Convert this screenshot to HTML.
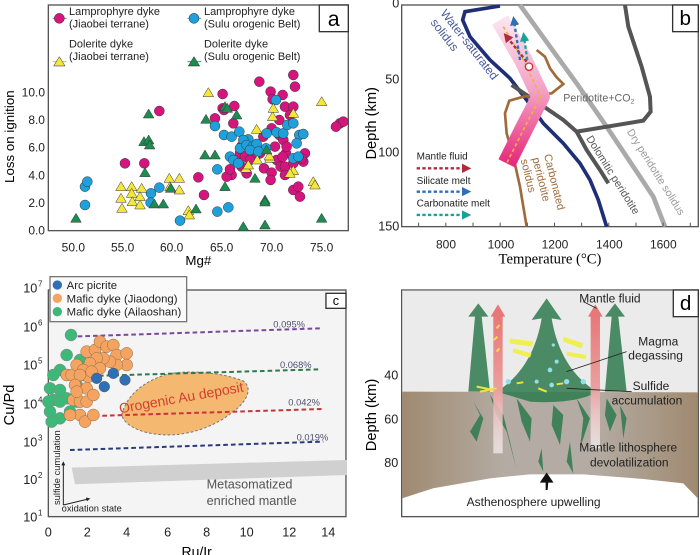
<!DOCTYPE html>
<html><head><meta charset="utf-8"><style>
html,body{margin:0;padding:0;background:#fff}
svg{display:block;font-family:"Liberation Sans",Arial,sans-serif}
</style></head><body>
<svg id="s" width="700" height="555" viewBox="0 0 700 555" xmlns="http://www.w3.org/2000/svg">
<defs>
<linearGradient id="band" x1="0" y1="0" x2="0" y2="1">
<stop offset="0" stop-color="#fbe3ee"/><stop offset="0.5" stop-color="#f3a0c4"/><stop offset="1" stop-color="#e62a7c"/></linearGradient>
<linearGradient id="brown" x1="0" y1="0" x2="1" y2="0">
<stop offset="0" stop-color="#a08a70"/><stop offset="0.35" stop-color="#b4aca4"/><stop offset="0.65" stop-color="#b4aca4"/><stop offset="1" stop-color="#a08a70"/></linearGradient>
<linearGradient id="pinkArr" x1="0" y1="1" x2="0" y2="0">
<stop offset="0" stop-color="#ffffff" stop-opacity="0.6"/><stop offset="0.45" stop-color="#eaa0a0"/><stop offset="1" stop-color="#e87878"/></linearGradient>
<marker id="ar" viewBox="0 0 10 10" refX="5" refY="5" markerWidth="4" markerHeight="4" orient="auto"><path d="M0,0L10,5L0,10z" fill="context-stroke"/></marker>
</defs>

<!-- Panel a -->
<g id="pa" transform="scale(0.3333)">
<rect x="145" y="15" width="900" height="677" fill="#fff" stroke="#555" stroke-width="4"/>
<g font-size="33" fill="#222">
<line x1="158" y1="55" x2="200" y2="55" stroke="#c06090" stroke-width="3"/>
<circle cx="178" cy="55" r="15" fill="#d6147e" stroke="#222" stroke-width="1.5"/>
<text x="207" y="45">Lamprophyre dyke</text><text x="207" y="82">(Jiaobei terrane)</text>
<line x1="562" y1="55" x2="604" y2="55" stroke="#60a0d0" stroke-width="3"/>
<circle cx="582" cy="55" r="15" fill="#1ea0dc" stroke="#222" stroke-width="1.5"/>
<text x="612" y="45">Lamprophyre dyke</text><text x="612" y="82">(Sulu orogenic Belt)</text>
<line x1="158" y1="185" x2="200" y2="185" stroke="#c8c060" stroke-width="3"/>
<path d="M178,170L195,198L161,198Z" fill="#f5e63c" stroke="#222" stroke-width="1.5"/>
<text x="207" y="142">Dolerite dyke</text><text x="207" y="180">(Jiaobei terrane)</text>
<line x1="562" y1="185" x2="604" y2="185" stroke="#4a9a6a" stroke-width="3"/>
<path d="M582,170L599,198L565,198Z" fill="#1e8c50" stroke="#222" stroke-width="1.5"/>
<text x="612" y="142">Dolerite dyke</text><text x="612" y="180">(Sulu orogenic Belt)</text>
</g>
<rect x="958" y="15" width="87" height="80" fill="#fff" stroke="#333" stroke-width="4"/>
<text x="1001" y="78" font-size="64" text-anchor="middle">a</text>
<g font-size="36" fill="#222" text-anchor="end">
<text x="135" y="289">10.0</text><text x="135" y="372">8.0</text><text x="135" y="455">6.0</text><text x="135" y="538">4.0</text><text x="135" y="621">2.0</text><text x="135" y="704">0.0</text></g>
<g font-size="36" fill="#222" text-anchor="middle">
<text x="220" y="755">50.0</text><text x="368" y="755">55.0</text><text x="515" y="755">60.0</text><text x="665" y="755">65.0</text><text x="815" y="755">70.0</text><text x="965" y="755">75.0</text></g>
<text x="595" y="795" font-size="40" text-anchor="middle">Mg#</text>
<text transform="translate(42,410) rotate(-90)" font-size="40" text-anchor="middle">Loss on ignition</text>
<g id="ptsA"></g>
</g>

<!-- Panel b -->
<g transform="translate(350,0) scale(0.3333)">
<rect x="155" y="15" width="890" height="665" fill="#fff" stroke="#555" stroke-width="4"/>
<path d="M450,18 L345,35 L338,60 L360,110 L420,180 L480,235 L530,300 L580,370 L640,430 L690,490 L720,540 L745,600 L770,680" fill="none" stroke="#1e2f78" stroke-width="11"/>
<path d="M510,15 L600,140 L680,250 L770,380 L850,500 L910,590 L945,680" fill="none" stroke="#aaa" stroke-width="14"/>
<path d="M825,15 L835,80 L875,200 L900,290 L902,335 L880,362 L680,395" fill="none" stroke="#555" stroke-width="12"/>
<path d="M485,255 L560,305 L640,360 L680,395 L710,450 L750,510 L775,550" fill="none" stroke="#555" stroke-width="12"/>
<path d="M560,150 L585,170 L600,205 L620,232 L640,252 L605,280 L520,290 L478,302 L465,340 L470,400 L490,470 L510,560 L530,680" fill="none" stroke="#a06a3a" stroke-width="8"/>
<path d="M450,60 L520,180 L572,290 L525,380 L470,490" fill="none" stroke="url(#band)" stroke-width="55" stroke-linejoin="round"/>
<path d="M460,80 L520,180 L572,290 L525,380 L470,490" fill="none" stroke="#f0b040" stroke-width="5" stroke-dasharray="10,8"/>
<circle cx="537" cy="200" r="11" fill="#fff" stroke="#d0303a" stroke-width="4"/>
<path d="M530,185 L470,110" stroke="#b02a40" stroke-width="7" stroke-dasharray="10,7" marker-end="url(#ar)" fill="none"/>
<path d="M510,180 L492,62" stroke="#2f6fb5" stroke-width="7" stroke-dasharray="10,7" marker-end="url(#ar)" fill="none"/>
<path d="M532,180 L522,110" stroke="#1aa09a" stroke-width="7" stroke-dasharray="10,7" marker-end="url(#ar)" fill="none"/>
<g font-size="30" fill="#222">
<text x="200" y="478">Mantle fluid</text><text x="200" y="552">Silicate melt</text><text x="200" y="620">Carbonatite melt</text></g>
<path d="M200,505 L350,505" stroke="#b02a40" stroke-width="7" stroke-dasharray="10,7" marker-end="url(#ar)"/>
<path d="M200,575 L350,575" stroke="#2f6fb5" stroke-width="7" stroke-dasharray="10,7" marker-end="url(#ar)"/>
<path d="M200,645 L350,645" stroke="#1aa09a" stroke-width="7" stroke-dasharray="10,7" marker-end="url(#ar)"/>
<g font-size="36" fill="#4a5a9a">
<text transform="translate(270,40) rotate(52)">Water-saturated</text>
<text transform="translate(240,68) rotate(52)">solidus</text></g>
<text x="640" y="305" font-size="32" fill="#666">Peridotite+CO<tspan font-size="20" dy="6">2</tspan></text>
<text transform="translate(708,415) rotate(58)" font-size="32" fill="#555">Dolomitic peridotite</text>
<text transform="translate(830,395) rotate(58)" font-size="32" fill="#999">Dry peridotite solidus</text>
<g font-size="33" fill="#a06a3a">
<text transform="translate(582,465) rotate(76)">Carbonated</text>
<text transform="translate(547,475) rotate(76)">peridotite</text>
<text transform="translate(512,480) rotate(76)">solidus</text></g>
<rect x="968" y="15" width="77" height="80" fill="#fff" stroke="#333" stroke-width="4"/>
<text x="1006" y="75" font-size="62" text-anchor="middle">b</text>
<g font-size="38" fill="#222" text-anchor="end">
<text x="148" y="22">0</text><text x="148" y="250">50</text><text x="148" y="470">100</text><text x="148" y="692">150</text></g>
<g font-size="36" fill="#222" text-anchor="middle">
<text x="288" y="745">800</text><text x="453" y="745">1000</text><text x="615" y="745">1200</text><text x="778" y="745">1400</text><text x="940" y="745">1600</text></g>
<text x="600" y="790" font-size="44" text-anchor="middle" font-family="Liberation Serif,serif">Temperature (°C)</text>
<text transform="translate(78,370) rotate(-90)" font-size="44" text-anchor="middle">Depth (km)</text>
<g id="tickB" stroke="#555" stroke-width="3"></g>
</g>

<!-- Panel c -->
<g transform="translate(0,275) scale(0.3333)">
<rect x="145" y="45" width="893" height="680" fill="#f4f4f4" stroke="#555" stroke-width="4"/>
<polygon points="215,578 1040,555 1040,600 225,628" fill="#d0d0d0"/>
<path d="M365,420 C380,360 430,320 500,298 C560,285 660,290 730,318 C760,340 740,380 700,410 C650,450 580,480 500,480 C430,478 375,455 365,420Z" fill="#f5b870" stroke="#777" stroke-width="3" stroke-dasharray="8,6"/>
<g stroke-width="6" stroke-dasharray="14,9" fill="none">
<path d="M210,185 L960,160" stroke="#7a4a9a"/>
<path d="M205,305 L960,283" stroke="#2e7a4e"/>
<path d="M215,425 L970,402" stroke="#c8343a"/>
<path d="M210,525 L970,500" stroke="#2a3a7a"/></g>
<g font-size="28" fill="#505070"><text x="820" y="158">0.095%</text><text x="840" y="279">0.068%</text><text x="865" y="392">0.042%</text><text x="890" y="496">0.019%</text></g>
<text transform="translate(360,415) rotate(-10)" font-size="42" fill="#d04030">Orogenic Au deposit</text>
<g font-size="38" fill="#555"><text x="620" y="640">Metasomatized</text><text x="620" y="690">enriched mantle</text></g>
<path d="M190,690 L190,565" stroke="#222" stroke-width="3" marker-end="url(#ar)"/>
<path d="M190,690 L265,672" stroke="#222" stroke-width="3" marker-end="url(#ar)"/>
<text transform="translate(180,690) rotate(-90)" font-size="28" fill="#222">sulfide cumulation</text>
<text x="185" y="710" font-size="28" fill="#222">oxidation state</text>
<g id="ptsC"></g>
<rect x="150" y="5" width="410" height="135" fill="#fafafa" stroke="#777" stroke-width="4"/>
<g font-size="34" fill="#222">
<circle cx="172" cy="30" r="14" fill="#2f6fb5"/><text x="200" y="42">Arc picrite</text>
<circle cx="172" cy="70" r="14" fill="#f4a460"/><text x="200" y="82">Mafic dyke (Jiaodong)</text>
<circle cx="172" cy="110" r="14" fill="#3cb878"/><text x="200" y="122">Mafic dyke (Ailaoshan)</text></g>
<rect x="978" y="55" width="60" height="45" fill="#fff" stroke="#333" stroke-width="4"/>
<text x="1008" y="90" font-size="38" text-anchor="middle">c</text>
<g font-size="38" fill="#222" text-anchor="end">
<text x="112" y="52">10</text><text x="112" y="170">10</text><text x="112" y="284">10</text><text x="112" y="400">10</text><text x="112" y="514">10</text><text x="112" y="627">10</text><text x="112" y="740">10</text></g>
<g font-size="24" fill="#222">
<text x="114" y="34">7</text><text x="114" y="152">6</text><text x="114" y="266">5</text><text x="114" y="382">4</text><text x="114" y="496">3</text><text x="114" y="609">2</text><text x="114" y="722">1</text></g>
<g font-size="38" fill="#222" text-anchor="middle">
<text x="145" y="785">0</text><text x="262" y="785">2</text><text x="380" y="785">4</text><text x="503" y="785">6</text><text x="620" y="785">8</text><text x="740" y="785">10</text><text x="868" y="785">12</text><text x="985" y="785">14</text></g>
<text x="590" y="845" font-size="42" text-anchor="middle">Ru/Ir</text>
<text transform="translate(42,390) rotate(-90)" font-size="44" text-anchor="middle">Cu/Pd</text>
</g>

<!-- Panel d -->
<g transform="translate(350,275) scale(0.3333)">
<rect x="155" y="45" width="890" height="680" fill="#fff" stroke="#555" stroke-width="4"/>
<rect x="157" y="47" width="886" height="310" fill="#ebebeb"/>
<polygon points="157,350 1043,352 1043,670 1000,625 880,612 700,598 540,598 420,610 250,640 157,670" fill="url(#brown)"/>
<g fill="#2e7a4e" opacity="0.85">
<path d="M440,350 C520,300 560,220 575,130 L545,135 L590,70 L635,135 L605,130 C620,220 660,300 740,350 C700,380 600,385 540,380Z"/>
<path d="M355,350 L375,125 L355,125 L385,85 L415,125 L395,125 L420,350Z"/>
<path d="M765,350 L785,125 L765,125 L795,85 L825,125 L805,125 L830,350Z"/>
<path d="M370,380 L390,420 L360,470 L380,500 L400,430Z"/>
<path d="M420,360 L460,420 L480,500 L500,585 L470,470 L440,420Z"/>
<path d="M500,370 L545,430 L540,500 L515,440Z"/>
<path d="M610,390 L640,420 L630,510 L605,450Z"/>
<path d="M680,370 L720,430 L690,520 L700,430Z"/>
<path d="M770,370 L800,420 L780,470 L765,420Z"/>
<path d="M810,390 L830,430 L820,490Z"/>
<path d="M575,520 L580,590 L565,560Z"/>
<path d="M660,500 L670,595 L650,560Z"/>
</g>
<rect x="430" y="120" width="28" height="415" fill="url(#pinkArr)"/>
<path d="M422,125 L444,88 L466,125Z" fill="#e87878"/>
<rect x="722" y="120" width="28" height="400" fill="url(#pinkArr)"/>
<path d="M714,125 L736,88 L758,125Z" fill="#e87878"/>
<g fill="#f0f040" opacity="0.9">
<path d="M480,190 L550,200 L545,215 L478,205Z"/><path d="M640,185 L700,205 L695,220 L640,200Z"/>
<path d="M650,230 L710,240 L705,252 L650,242Z"/><path d="M490,220 L545,235 L540,248 L488,232Z"/></g>
<g fill="#8fe0e8"><circle cx="600" cy="285" r="7"/><circle cx="650" cy="320" r="8"/><circle cx="700" cy="320" r="8"/><circle cx="605" cy="330" r="7"/><circle cx="475" cy="320" r="8"/><circle cx="560" cy="320" r="6"/><circle cx="620" cy="260" r="6"/><circle cx="610" cy="210" r="5"/></g>
<g stroke="#f0e040" stroke-width="6"><path d="M380,335 L430,345"/><path d="M390,350 L440,340"/><path d="M500,325 L520,322"/><path d="M565,340 L590,350"/><path d="M620,328 L640,325"/><path d="M440,160 L448,150"/><path d="M432,195 L442,185"/><path d="M440,230 L448,220"/></g>
<g stroke="#222" stroke-width="2.5"><path d="M740,100 L700,80"/><path d="M650,290 L830,230"/><path d="M650,340 L845,350"/></g>
<g font-size="36" fill="#222">
<text x="688" y="82">Mantle fluid</text><text x="865" y="212">Magma</text><text x="835" y="254">degassing</text>
<text x="848" y="345">Sulfide</text><text x="785" y="388">accumulation</text>
<text x="688" y="530">Mantle lithosphere</text><text x="720" y="575">devolatilization</text>
<text x="350" y="693">Asthenosphere upwelling</text></g>
<path d="M590,645 L590,620 L575,620 L590,598 L605,620 L592,620Z" fill="#111" stroke="#111" stroke-width="6"/>
<rect x="970" y="45" width="75" height="80" fill="#fff" stroke="#333" stroke-width="4"/>
<text x="1007" y="105" font-size="62" text-anchor="middle">d</text>
<g font-size="38" fill="#222" text-anchor="end"><text x="145" y="313">40</text><text x="145" y="445">60</text><text x="145" y="576">80</text></g>
<text transform="translate(78,420) rotate(-90)" font-size="44" text-anchor="middle">Depth (km)</text>
</g>
</svg>
<script>
var NS="http://www.w3.org/2000/svg";
function el(p,t,a){var e=document.createElementNS(NS,t);for(var k in a)e.setAttribute(k,a[k]);p.appendChild(e);return e;}
var A=document.getElementById("ptsA");
var pink=[[478,333],[375,490],[433,490],[595,532],[612,585],[668,282],[668,325],[672,330],[703,318],[645,355],[695,525],[700,370],[680,530],[725,438],[778,245],[812,275],[818,298],[848,285],[880,225],[885,260],[855,320],[880,320],[870,345],[838,360],[815,385],[790,410],[760,445],[780,460],[765,475],[792,505],[815,518],[812,540],[830,480],[825,440],[838,405],[850,420],[858,460],[848,470],[842,500],[855,500],[855,525],[880,570],[895,560],[900,590],[910,485],[915,460],[905,475],[880,490],[860,440],[1020,370],[1030,365],[1008,380],[720,460],[735,470],[750,480],[690,508],[725,500],[740,520]];
var blue=[[255,560],[262,545],[255,615],[453,580],[452,608],[478,563],[540,662],[652,508],[652,635],[685,622],[645,378],[672,405],[695,410],[718,395],[745,418],[730,420],[690,470],[700,480],[715,490],[720,445],[740,435],[758,440],[770,432],[750,450],[798,445],[775,455],[830,397],[828,300],[850,400],[862,375],[880,370],[898,405],[910,402],[890,430],[880,475],[895,470],[800,400]];
var yel=[[363,560],[363,595],[366,625],[395,560],[395,580],[397,605],[425,565],[420,615],[420,590],[508,535],[538,535],[538,570],[510,560],[565,632],[568,645],[625,278],[738,505],[770,388],[772,480],[810,475],[818,350],[820,325],[808,468],[880,340],[880,512],[940,545],[945,555],[965,305],[870,520],[745,495]];
var grn=[[228,655],[432,425],[435,518],[446,342],[446,420],[449,435],[463,612],[490,612],[512,565],[588,627],[615,465],[645,465],[675,320],[682,325],[710,345],[618,358],[675,560],[730,680],[795,600],[795,606],[795,675],[965,655],[765,535],[800,450]];
pink.forEach(function(p){el(A,"circle",{cx:p[0],cy:p[1],r:15,fill:"#d6147e",stroke:"#333","stroke-width":1.5});});
blue.forEach(function(p){el(A,"circle",{cx:p[0],cy:p[1],r:15,fill:"#1ea0dc",stroke:"#333","stroke-width":1.5});});
function tri(c,p){el(A,"path",{d:"M"+p[0]+","+(p[1]-15)+"L"+(p[0]+16)+","+(p[1]+12)+"L"+(p[0]-16)+","+(p[1]+12)+"Z",fill:c,stroke:"#333","stroke-width":1.5});}
yel.forEach(function(p){tri("#f5e63c",p)});grn.forEach(function(p){tri("#1e8c50",p)});
var C=document.getElementById("ptsC");
var gr=[[213,180],[200,240],[180,285],[160,300],[150,340],[160,375],[180,345],[150,410],[180,430],[210,410],[230,380],[250,300],[240,255],[230,330],[200,370],[155,440],[180,380],[145,380]];
var or=[[200,300],[215,300],[230,270],[260,230],[285,225],[300,200],[320,215],[340,210],[350,240],[380,235],[380,270],[350,270],[330,260],[310,250],[290,250],[270,265],[250,285],[265,305],[240,300],[225,330],[260,340],[220,375],[240,380],[260,380],[280,360],[240,420],[255,440],[280,420],[300,280],[275,290],[210,420],[230,350]];
var bl=[[313,335],[340,295],[375,315],[290,310]];
gr.forEach(function(p){el(C,"circle",{cx:p[0],cy:p[1],r:18,fill:"#3cb878",stroke:"#888","stroke-width":1.5});});
or.forEach(function(p){el(C,"circle",{cx:p[0],cy:p[1],r:18,fill:"#f4a460",stroke:"#8a6a4a","stroke-width":1.5});});
bl.forEach(function(p){el(C,"circle",{cx:p[0],cy:p[1],r:16,fill:"#2f6fb5",stroke:"#555","stroke-width":1.5});});
var T=document.getElementById("tickB");
for(var x=206;x<1040;x+=81.5){el(T,"line",{x1:x,y1:680,x2:x,y2:668});}
</script>
</body></html>
